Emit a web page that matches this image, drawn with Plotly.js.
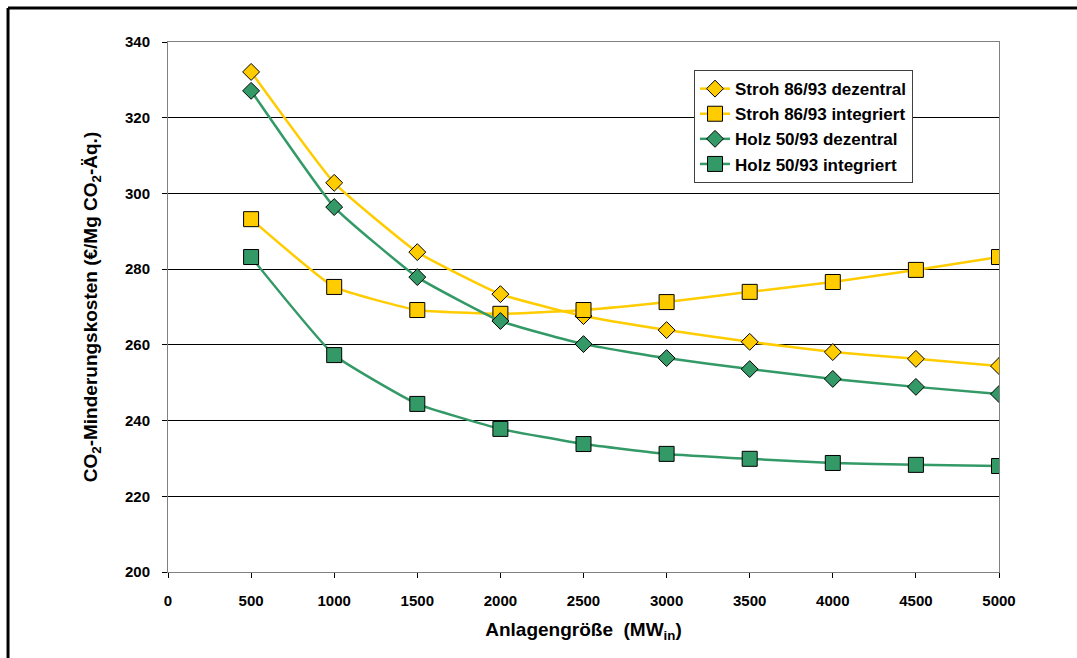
<!DOCTYPE html>
<html>
<head>
<meta charset="utf-8">
<script src="https://cdn.plot.ly/plotly-3.0.1.min.js"></script>
<style>
  html, body { margin: 0; padding: 0; background: #fff; }
  #chart { width: 1077px; height: 658px; }
</style>
</head>
<body>
<div id="chart"></div>
<script>
const xValues = [500, 1000, 1500, 2000, 2500, 3000, 3500, 4000, 4500, 5000];
const strohDezentral = [332.1, 302.8, 284.5, 273.4, 267.6, 263.9, 260.8, 258.1, 256.3, 254.4];
const strohIntegriert = [293.2, 275.3, 269.2, 268.2, 269.2, 271.3, 274.0, 276.6, 279.8, 283.2];
const holzDezentral = [327.1, 296.4, 277.9, 266.3, 260.2, 256.5, 253.6, 251.0, 248.9, 247.0];
const holzIntegriert = [283.2, 257.3, 244.4, 237.8, 233.8, 231.2, 229.9, 228.8, 228.3, 228.0];
const seriesNames = ['Stroh 86/93 dezentral', 'Stroh 86/93 integriert', 'Holz 50/93 dezentral', 'Holz 50/93 integriert'];
const xTicks = [0, 500, 1000, 1500, 2000, 2500, 3000, 3500, 4000, 4500, 5000];

const yellow = '#FFCC00';
const green = '#339966';

function trace(name, y, color, symbol, size) {
  return {
    type: 'scatter', mode: 'lines+markers', name: name,
    x: xValues, y: y,
    line: { color: color, width: 2.5, shape: 'spline', smoothing: 0.4 },
    marker: { symbol: symbol, size: size, color: color, line: { color: '#000', width: 1 } }
  };
}

const data = [
  trace(seriesNames[0], strohDezentral, yellow, 'diamond', 13),
  trace(seriesNames[1], strohIntegriert, yellow, 'square', 15),
  trace(seriesNames[2], holzDezentral, green, 'diamond', 13),
  trace(seriesNames[3], holzIntegriert, green, 'square', 15)
];

const fam = 'Liberation Sans, Arial, sans-serif';
const tickFont = { family: fam, size: 15, color: '#000', weight: 'bold' };
const titleFont = { family: fam, size: 19, color: '#000', weight: 'bold' };

const layout = {
  width: 1077, height: 658,
  margin: { l: 168, r: 78, t: 42, b: 86 },
  paper_bgcolor: '#fff', plot_bgcolor: '#fff',
  font: { family: fam, color: '#000' },
  showlegend: true,
  legend: {
    x: 0.633, y: 0.947, xanchor: 'left', yanchor: 'top',
    bgcolor: '#fff', bordercolor: '#404040', borderwidth: 1,
    font: { family: fam, size: 17, color: '#000', weight: 'bold' },
    tracegroupgap: 0
  },
  xaxis: {
    range: [0, 5000], tickvals: xTicks,
    showgrid: false, zeroline: false,
    showline: true, linecolor: '#808080', linewidth: 1, mirror: true,
    ticks: 'outside', ticklen: 5, tickcolor: '#000',
    ticklabelstandoff: 10,
    tickfont: tickFont,
    title: { text: 'Anlagengröße  (MW<sub>in</sub>)', standoff: 14, font: titleFont }
  },
  yaxis: {
    range: [200, 340], dtick: 20,
    showgrid: true, gridcolor: '#000', gridwidth: 1, zeroline: false,
    showline: true, linecolor: '#808080', linewidth: 1, mirror: true,
    ticks: 'outside', ticklen: 5, tickcolor: '#000',
    ticklabelstandoff: 9,
    tickfont: tickFont,
    title: { text: 'CO<sub>2</sub>-Minderungskosten (€/Mg CO<sub>2</sub>-Äq.)', standoff: 22, font: titleFont }
  },
  shapes: [
    { type: 'line', xref: 'paper', yref: 'paper', x0: -0.1925, x1: 1.2, y0: 1.0642, y1: 1.0642,
      line: { color: '#000', width: 3 } },
    { type: 'line', xref: 'paper', yref: 'paper', x0: -0.1925, x1: -0.1925, y0: 1.0642, y1: -0.2,
      line: { color: '#000', width: 3 } }
  ]
};

Plotly.newPlot('chart', data, layout, { displayModeBar: false, staticPlot: true });
</script>
</body>
</html>
